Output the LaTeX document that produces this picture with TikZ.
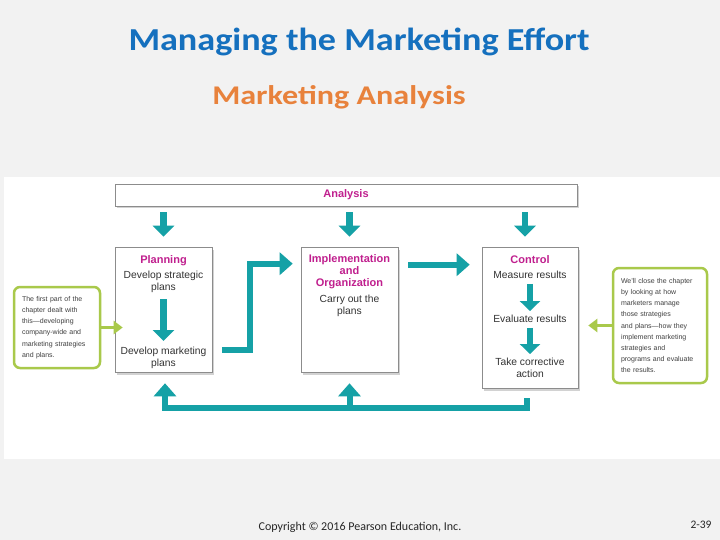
\documentclass[tikz,border=0pt]{standalone}
\usepackage{fontspec}
\setmainfont{Liberation Sans}
\newfontfamily\slidefont{Carlito}
\usetikzlibrary{arrows.meta,shadows}
\definecolor{slidegray}{HTML}{F2F2F2}
\definecolor{titleblue}{HTML}{1570BE}
\definecolor{suborange}{HTML}{E8823C}
\definecolor{flowteal}{HTML}{15A1A6}
\definecolor{headmag}{HTML}{C01F8E}
\definecolor{notelime}{HTML}{A9C94B}
\begin{document}
\begin{tikzpicture}[x=1pt, y=-1pt, line join=miter, >=stealth]
			\tikzset{box style/.style={draw=black!45, fill=white, line width=0.6pt, inner sep=0pt,
					drop shadow={shadow xshift=1.5pt, shadow yshift=-2.5pt, opacity=.35}},
				head style/.style={text=headmag, font=\bfseries\fontsize{11}{12}\selectfont, align=center, inner sep=0pt},
				body style/.style={text=black!80, font=\fontsize{10.3}{12}\selectfont, align=center, inner sep=0pt},
				note style/.style={draw=notelime, line width=2.5pt, rounded corners=6pt, fill=white, align=left,
					text=black!75, font=\fontsize{7}{11.2}\selectfont, inner sep=0pt},
				flow big/.style={draw=flowteal, line width=6pt, -{Triangle[width=22pt,length=13pt]}},
				flow small/.style={draw=flowteal, line width=6.5pt, -{Triangle[width=21pt,length=11pt]}},
				flow note/.style={draw=notelime, line width=3pt, -{Triangle[width=13pt,length=9pt]}}}
			\useasboundingbox[fill=slidegray] (0,0) rectangle (720,540);
			\fill[white] (4,177) rectangle (720,459);
			% titles
			\node[text=titleblue, font=\slidefont\bfseries\fontsize{32}{36}\selectfont, xscale=1.13, transform shape] (title) at (359,42) {Managing the Marketing Effort};
			\node[text=suborange, font=\slidefont\bfseries\fontsize{27}{30}\selectfont, xscale=1.19, transform shape] (subtitle) at (339,97) {Marketing Analysis};
			% boxes
			\node[box style, minimum width=462, minimum height=22] (ana) at (346,195) {};
			\node[head style] at (ana) {Analysis};
			\node[box style, minimum width=97, minimum height=125] (plan) at (163.5,309.5) {};
			\node[box style, minimum width=97, minimum height=125] (impl) at (349.5,309.5) {};
			\node[box style, minimum width=96, minimum height=141] (ctrl) at (530,317.5) {};
			\node[head style] (planT) at (163.5,261) {Planning};
			\node[body style] (planA) at (163.5,282) {Develop strategic\\plans};
			\node[body style] (planB) at (163.5,358) {Develop marketing\\plans};
			\node[head style] (implT) at (349.5,272) {Implementation\\and\\Organization};
			\node[body style] (implA) at (349.5,306) {Carry out the\\plans};
			\node[head style] (ctrlT) at (530,260) {Control};
			\node[body style] (ctrlA) at (530,275) {Measure results};
			\node[body style] (ctrlB) at (530,319) {Evaluate results};
			\node[body style] (ctrlC) at (530,368) {Take corrective\\action};
			% side notes
			\node[note style, minimum width=86, minimum height=81, text width=70] (lnote) at (57,327.5)
				{The first part of the\\chapter dealt with\\this---developing\\company-wide and\\marketing strategies\\and plans.};
			\node[note style, minimum width=94, minimum height=115, text width=78] (rnote) at (660,325.5)
				{We'll close the chapter\\by looking at how\\marketers manage\\those strategies\\and plans---how they\\implement marketing\\strategies and\\programs and evaluate\\the results.};
			% arrows
			\draw[flow small] ([yshift=-6pt]plan.north |- ana.south) -- ([yshift=10pt]plan.north);
			\draw[flow small] ([yshift=-6pt]impl.north |- ana.south) -- ([yshift=10pt]impl.north);
			\draw[flow small] ([shift={(-5,0)},yshift=-6pt]ctrl.north |- ana.south) -- ([shift={(-5,0)},yshift=10pt]ctrl.north);
			\draw[flow small] ([yshift=-6pt]planA.south) -- ([yshift=6pt]planB.north);
			\draw[flow small, line width=6pt, -{Triangle[width=20pt,length=10pt]}] ([yshift=-5pt]ctrlA.south) -- ([yshift=4pt]ctrlB.north);
			\draw[flow small, line width=6pt, -{Triangle[width=20pt,length=10pt]}] ([yshift=-5pt]ctrlB.south) -- ([yshift=4pt]ctrlC.north);
			\draw[flow big] ([shift={(10,40)}]plan.east) -- ++(28,0) |- ([shift={(-8,17)}]impl.north west);
			\draw[flow big] ([shift={(10,18)}]impl.north east) -- ([shift={(-12,18)}]ctrl.north west);
			\coordinate (loopR) at ([shift={(-3,20)}]ctrl.south);
			\draw[flow big] ([shift={(-3,10)}]ctrl.south) -- (loopR) -| ([shift={(1.5,11)}]plan.south);
			\draw[flow big] (impl.south |- loopR) -- ([yshift=-11pt]impl.south);
			\draw[flow note] (lnote.east) -- ([xshift=8pt]plan.west |- lnote.east);
			\draw[flow note] (rnote.west) -- ([xshift=10pt]ctrl.east |- rnote.west);
			% footer
			\node[text=black!85, font=\slidefont\fontsize{12}{14}\selectfont] (copy) at (360,527) {Copyright \textcopyright{} 2016 Pearson Education, Inc.};
			\node[text=black!85, font=\slidefont\fontsize{11.5}{13}\selectfont] (page) at (701,525) {2-39};
		\end{tikzpicture}
\end{document}
